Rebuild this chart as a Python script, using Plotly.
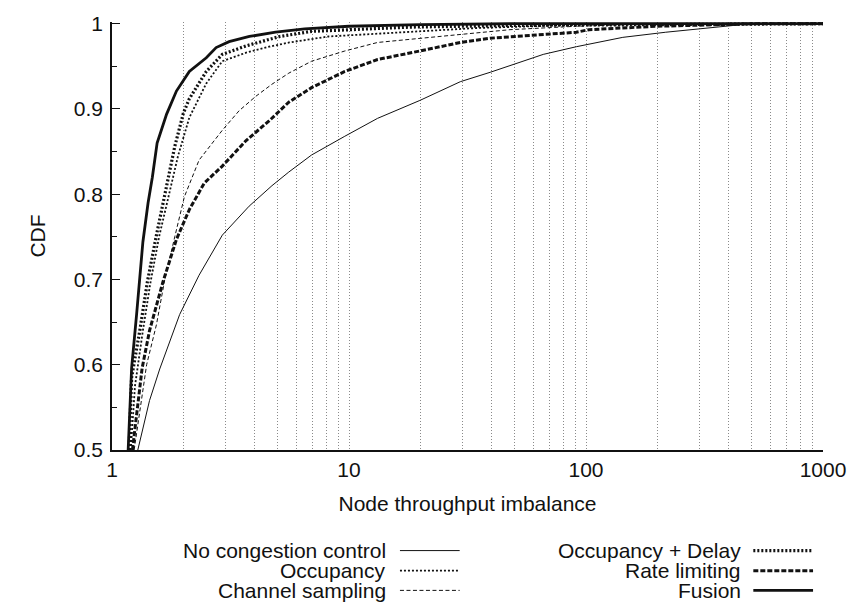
import plotly.graph_objects as go

# ---- data ----
nocc_x = [1.285, 1.44, 1.59, 1.93, 2.33, 2.92, 3.79, 4.73, 5.57, 6.95, 9.6, 13.2, 19.9, 29.5, 39.4, 49.6, 66, 91, 143, 217, 320, 457, 610, 1000]
nocc_y = [0.50, 0.558, 0.595, 0.659, 0.705, 0.752, 0.786, 0.81, 0.826, 0.846, 0.868, 0.889, 0.91, 0.932, 0.943, 0.952, 0.964, 0.973, 0.984, 0.99, 0.995, 0.999, 1.0, 1.0]

occ_x = [1.2, 1.25, 1.35, 1.45, 1.58, 1.72, 1.9, 2.12, 2.5, 2.92, 3.68, 4.6, 5.6, 8.2, 16, 35, 100, 1000]
occ_y = [0.50, 0.575, 0.64, 0.695, 0.75, 0.795, 0.845, 0.89, 0.93, 0.956, 0.966, 0.973, 0.978, 0.985, 0.99, 0.995, 0.999, 1.0]

chan_x = [1.24, 1.40, 1.54, 1.67, 1.84, 2.02, 2.33, 2.92, 3.44, 4.05, 4.73, 5.57, 6.95, 9.6, 13.2, 19.9, 29.5, 47.8, 91, 200, 1000]
chan_y = [0.50, 0.60, 0.647, 0.70, 0.75, 0.797, 0.84, 0.875, 0.898, 0.915, 0.929, 0.942, 0.956, 0.968, 0.978, 0.983, 0.987, 0.993, 0.997, 1.0, 1.0]

od_x = [1.18, 1.21, 1.31, 1.41, 1.54, 1.67, 1.84, 2.0, 2.12, 2.5, 2.92, 3.68, 5.1, 6.95, 9.6, 18, 50, 150, 500, 1000]
od_y = [0.50, 0.585, 0.64, 0.697, 0.752, 0.80, 0.856, 0.895, 0.912, 0.944, 0.964, 0.974, 0.985, 0.991, 0.993, 0.996, 0.998, 0.999, 1.0, 1.0]

rate_x = [1.22, 1.34, 1.44, 1.64, 1.87, 2.12, 2.45, 2.92, 3.68, 4.6, 5.57, 6.95, 9.6, 13.2, 19.9, 29.5, 39.4, 56, 91, 103, 198, 520, 1000]
rate_y = [0.50, 0.596, 0.64, 0.697, 0.747, 0.782, 0.813, 0.833, 0.863, 0.886, 0.908, 0.925, 0.944, 0.958, 0.968, 0.978, 0.983, 0.986, 0.99, 0.993, 0.997, 1.0, 1.0]

fus_x = [1.17, 1.21, 1.27, 1.35, 1.42, 1.48, 1.55, 1.70, 1.87, 2.12, 2.5, 2.75, 3.12, 3.8, 4.9, 6.5, 10, 20, 50, 1000]
fus_y = [0.50, 0.596, 0.659, 0.744, 0.79, 0.82, 0.86, 0.894, 0.921, 0.944, 0.96, 0.972, 0.979, 0.985, 0.99, 0.994, 0.997, 0.999, 1.0, 1.0]

names = ["No congestion control", "Occupancy", "Channel sampling",
         "Occupancy + Delay", "Rate limiting", "Fusion"]
xs = [nocc_x, occ_x, chan_x, od_x, rate_x, fus_x]
ys = [nocc_y, occ_y, chan_y, od_y, rate_y, fus_y]

x_tick_vals = [1, 2, 3, 4, 5, 6, 7, 8, 9, 10, 20, 30, 40, 50, 60, 70, 80, 90,
               100, 200, 300, 400, 500, 600, 700, 800, 900, 1000]
x_tick_labels = {1: "1", 10: "10", 100: "100", 1000: "1000"}
y_tick_vals = [0.5, 0.6, 0.7, 0.8, 0.9, 1.0]
y_tick_text = ["0.5", "0.6", "0.7", "0.8", "0.9", "1"]
y_minor_vals = [0.55, 0.65, 0.75, 0.85, 0.95]

# ---- styles ----
INK = "#111111"
styles = [
    dict(width=1.0, dash="solid"),
    dict(width=1.8, dash="2px,2px"),
    dict(width=1.0, dash="4px,2.5px"),
    dict(width=3.2, dash="2px,2px"),
    dict(width=3.0, dash="5px,2px"),
    dict(width=2.8, dash="solid"),
]
FONT = "Liberation Sans, Arial, Helvetica, sans-serif"
FS = 21

fig = go.Figure()
for n, x, y, st in zip(names, xs, ys, styles):
    fig.add_trace(go.Scatter(x=x, y=y, mode="lines", name=n, showlegend=False,
                             line=dict(color=INK, width=st["width"], dash=st["dash"])))

fig.update_layout(
    width=858, height=602,
    margin=dict(l=112, r=30, t=19, b=152),
    paper_bgcolor="white", plot_bgcolor="white",
    font=dict(family=FONT, size=FS, color=INK),
    xaxis=dict(
        type="log", range=[0, 3],
        tickvals=x_tick_vals,
        ticktext=[x_tick_labels.get(v, "") for v in x_tick_vals],
        tickfont=dict(family=FONT, size=FS, color=INK),
        showgrid=True, gridcolor="#8a8a8a", griddash="1px,2px", gridwidth=1,
        showline=True, linecolor=INK, linewidth=1.5,
        ticks="", zeroline=False,
        title=dict(text="Node throughput imbalance", standoff=16,
                   font=dict(family=FONT, size=FS, color=INK)),
    ),
    yaxis=dict(
        range=[0.5, 1.002],
        tickvals=y_tick_vals, ticktext=y_tick_text,
        tickfont=dict(family=FONT, size=FS, color=INK), ticklabelstandoff=3,
        ticks="inside", ticklen=8, tickcolor=INK, tickwidth=1.2,
        showgrid=False, zeroline=False,
        showline=True, linecolor=INK, linewidth=1.5,
        minor=dict(tickvals=y_minor_vals, ticks="inside", ticklen=5,
                   tickcolor=INK, tickwidth=1.2, showgrid=False),
        title=dict(text="CDF", standoff=22,
                   font=dict(family=FONT, size=FS, color=INK)),
    ),
)

# ---- legend drawn as text + line samples, two columns ----
cols = [(0.388, 0.405, 0.489), (0.887, 0.902, 0.986)]
rows = [-0.235, -0.282, -0.328]
for i, (n, st) in enumerate(zip(names, styles)):
    c = cols[i // 3]
    r = rows[i % 3]
    fig.add_annotation(x=c[0], y=r, xref="paper", yref="paper", text=n,
                       showarrow=False, xanchor="right", yanchor="middle",
                       font=dict(family=FONT, size=FS, color=INK))
    fig.add_shape(type="line", xref="paper", yref="paper",
                  x0=c[1], x1=c[2], y0=r, y1=r,
                  line=dict(color=INK, width=st["width"], dash=st["dash"]))

fig.write_html("out.html")
